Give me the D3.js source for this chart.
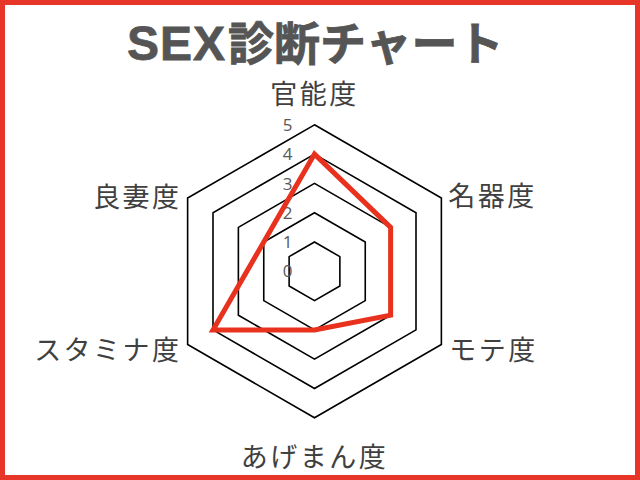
<!DOCTYPE html>
<html><head><meta charset="utf-8">
<script src="https://cdn.jsdelivr.net/npm/d3@7"></script>
<style>
html,body{margin:0;padding:0;background:#fff;}
svg{display:block;}
</style></head>
<body>
<script>
const titleLatin = "SEX";
const titleJa = "診断チャート";
const categories = ["官能度","名器度","モテ度","あげまん度","スタミナ度","良妻度"];
const values = [4,3,3,2,4,2];
const ticks = [0,1,2,3,4,5];

const W = 640, H = 480;
const cx = 314.5, cy = 271.3, R = 146.5;
const svg = d3.select("body").append("svg").attr("width",W).attr("height",H);

svg.append("rect").attr("x",2.5).attr("y",2.5).attr("width",W-5).attr("height",H-5)
  .attr("fill","#fff").attr("stroke","#E8352A").attr("stroke-width",5);

const t = svg.append("text").attr("x",127).attr("y",60).attr("text-anchor","start")
  .attr("font-weight",700).attr("fill","#555").attr("stroke","#555").attr("stroke-width",0.8);
t.append("tspan").attr("font-family","'Liberation Sans', Arial, sans-serif").attr("font-size",48)
  .attr("letter-spacing",1).text(titleLatin);
t.append("tspan").attr("font-family","'Noto Sans CJK JP', sans-serif").attr("font-size",46)
  .attr("dx",2).text(titleJa);

const r = d3.scaleLinear().domain([0,5]).range([0,R]);
const ang = d3.scaleLinear().domain([0,categories.length]).range([0,2*Math.PI]);
const pt = (i,v)=>[cx + r(v)*Math.sin(ang(i)), cy - r(v)*Math.cos(ang(i))];

const line = d3.line().curve(d3.curveLinearClosed);
const g = svg.append("g");
ticks.filter(t=>t>0).forEach(t=>{
  g.append("path").attr("d", line(categories.map((c,i)=>pt(i,t))))
   .attr("fill","none").attr("stroke","#000").attr("stroke-width",1.6);
});

g.selectAll(".tick").data(ticks).enter().append("text")
  .attr("x",cx-22).attr("y",d=>cy-r(d)).attr("dy","0.36em").attr("text-anchor","end")
  .attr("font-family","'Open Sans', sans-serif").attr("font-size",17).attr("fill","#595959")
  .text(d=>d);

g.append("path").attr("d", line(values.map((v,i)=>pt(i,v))))
  .attr("fill","none").attr("stroke","#E8321E").attr("stroke-width",5).attr("stroke-linejoin","miter");

const labelOff = [[0,-21,"middle"],[7,8,"start"],[8,15,"start"],[0,49,"middle"],[-6,15,"end"],[-6,9,"end"]];
g.selectAll(".lab").data(categories).enter().append("text")
  .attr("x",(d,i)=>pt(i,5)[0]+labelOff[i][0])
  .attr("y",(d,i)=>pt(i,5)[1]+labelOff[i][1])
  .attr("text-anchor",(d,i)=>labelOff[i][2])
  .attr("font-family","'Noto Sans CJK JP', sans-serif").attr("font-size",27)
  .attr("letter-spacing",2.5).attr("fill","#404040")
  .text(d=>d);
</script>
</body></html>
